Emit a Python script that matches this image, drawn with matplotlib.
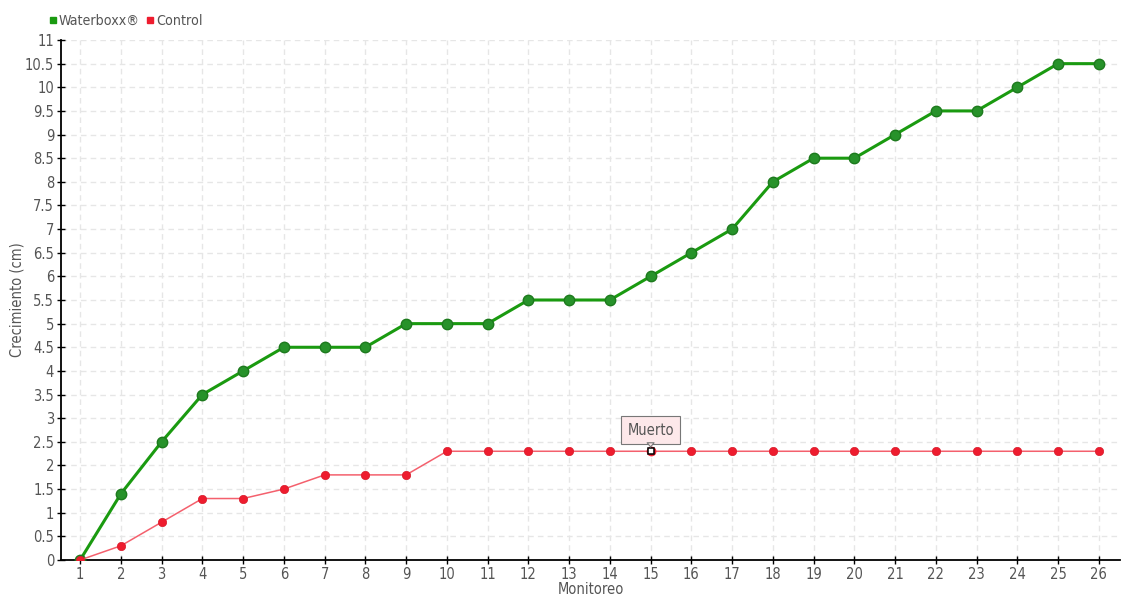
import matplotlib
matplotlib.use("Agg")
import matplotlib.pyplot as plt
from matplotlib.lines import Line2D

plt.rcParams['font.family'] = ['DejaVu Sans']
plt.rcParams['font.stretch'] = 'condensed'

monitoreo = list(range(1, 27))
waterboxx = [0, 1.4, 2.5, 3.5, 4, 4.5, 4.5, 4.5, 5, 5, 5, 5.5, 5.5, 5.5, 6, 6.5, 7, 8,
             8.5, 8.5, 9, 9.5, 9.5, 10, 10.5, 10.5]
control = [0, 0.3, 0.8, 1.3, 1.3, 1.5, 1.8, 1.8, 1.8, 2.3, 2.3, 2.3, 2.3, 2.3, 2.3, 2.3,
           2.3, 2.3, 2.3, 2.3, 2.3, 2.3, 2.3, 2.3, 2.3, 2.3]
muerto_idx = 14
yticks = [0, 0.5, 1, 1.5, 2, 2.5, 3, 3.5, 4, 4.5, 5, 5.5, 6, 6.5, 7, 7.5, 8, 8.5, 9, 9.5,
          10, 10.5, 11]

green = '#1a9a10'
red = '#ee1c2e'
txt = '#555555'

fig = plt.figure(figsize=(11.4, 6), dpi=100)
ax = fig.add_axes([0.0535, 0.0667, 0.929, 0.8666])

ax.plot(monitoreo, waterboxx, color=green, lw=2.2, zorder=3)
ax.plot(monitoreo, waterboxx, 'o', color='#27922a', ms=7.5, mec='#1d7a1d', mew=1, zorder=4)
ax.plot(monitoreo, control, color='#f4606d', lw=1.1, zorder=5)
mx = [m for i, m in enumerate(monitoreo) if i != muerto_idx]
my = [c for i, c in enumerate(control) if i != muerto_idx]
ax.plot(mx, my, 'o', color=red, ms=6, mec='#d81a2a', mew=0.5, zorder=6)
ax.plot(monitoreo[muerto_idx], control[muerto_idx], 'o', color=red, ms=6.5,
        mec=red, mew=0.5, zorder=6)
ax.plot(monitoreo[muerto_idx], control[muerto_idx], 's', color='white', ms=3.8,
        mec='black', mew=1.1, zorder=7)

ax.annotate('Muerto', xy=(monitoreo[muerto_idx], control[muerto_idx]),
            xytext=(0, 15), textcoords='offset points', ha='center', va='center',
            fontsize=10.5, color=txt,
            bbox=dict(boxstyle='square,pad=0.45', fc='#fde8ea', ec='#777777', lw=0.8),
            zorder=8)
# small pointer notch under the callout box
ax.annotate('', xy=(monitoreo[muerto_idx], control[muerto_idx]),
            xytext=(0, 5.2), textcoords='offset points',
            arrowprops=dict(arrowstyle='-|>,head_width=0.25,head_length=0.3',
                            fc='#fde8ea', ec='#777777', lw=0.8, shrinkA=0, shrinkB=2.5),
            zorder=9)

ax.set_xlim(0.53, 26.52)
ax.set_ylim(0, 11)
ax.set_xticks(monitoreo)
ax.set_yticks(yticks)
ax.set_yticklabels([('%g' % v) for v in yticks])
ax.tick_params(direction='inout', length=6, width=1, colors='black', labelcolor=txt,
               labelsize=10.5, pad=2)
ax.grid(True, color='#e6e6e6', ls=(0, (4, 3)), lw=1)
ax.set_axisbelow(True)
for s in ['top', 'right']:
    ax.spines[s].set_visible(False)
for s in ['left', 'bottom']:
    ax.spines[s].set_linewidth(1.3)

ax.set_xlabel('Monitoreo', fontsize=10.5, color=txt, labelpad=0)
ax.xaxis.set_label_coords(0.5, -0.043)
ax.set_ylabel('Crecimiento (cm)', fontsize=10.5, color=txt)
ax.yaxis.set_label_coords(-0.034, 0.5)

handles = [Line2D([], [], marker='s', ls='none', color=green, ms=4.5),
           Line2D([], [], marker='s', ls='none', color=red, ms=4.5)]
fig.legend(handles, ['Waterboxx®', 'Control'], loc='upper left',
           bbox_to_anchor=(0.031, 0.998), ncol=2, frameon=False, fontsize=10.2,
           handletextpad=0.05, columnspacing=0.4, handlelength=0.7, labelcolor=txt)

fig.savefig('out.png', dpi=100)
